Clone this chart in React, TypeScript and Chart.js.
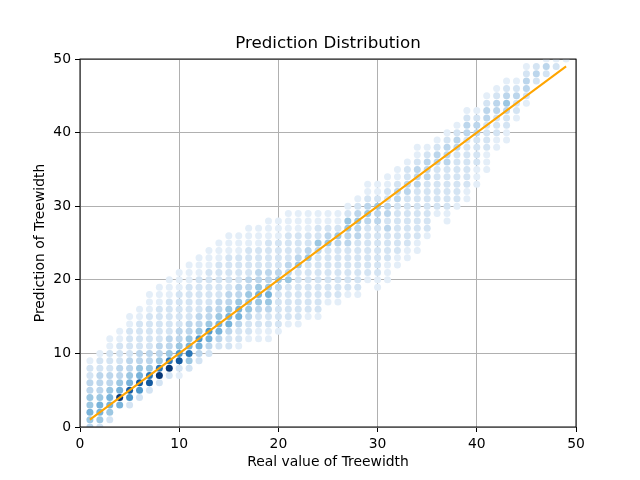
import { useEffect, useRef } from "react";
import { Chart, registerables } from "chart.js";

Chart.register(...registerables);

// one column of dots per real treewidth value
const columnX = [
  1, 2, 3, 4, 5, 6, 7, 8, 9, 10, 11, 12, 13, 14, 15, 16, 17, 18, 19, 20, 21, 22, 23, 24, 25,
  26, 27, 28, 29, 30, 31, 32, 33, 34, 35, 36, 37, 38, 39, 40, 41, 42, 43, 44, 45, 46, 47, 48, 49,
];

// lowest predicted value present in each column
const columnLow = [
  0, 0, 1, 3, 3, 4, 5, 6, 7, 7, 8, 9, 10, 11, 11, 11, 12, 12, 12, 13, 14, 14, 15, 15, 17,
  17, 18, 18, 20, 19, 20, 22, 23, 24, 26, 29, 28, 30, 31, 33, 35, 38, 39, 42, 44, 47, 48, 49, 50,
];

// density shade (1 = rare .. 9 = frequent) for each predicted value, from columnLow upwards
const columnShades = [
  "3454433221",
  "24554333221",
  "245543322211",
  "59543322211",
  "2685433222211",
  "2685433222211",
  "28743322222111",
  "29743322222111",
  "29743322222111",
  "128643322222111",
  "247543322222111",
  "235643322222111",
  "235643322222111",
  "235543322222111",
  "2235543322222111",
  "1223554332222111",
  "1223444332222111",
  "1122345433222111",
  "11223454332222111",
  "1222223432222111",
  "1222224332222111",
  "1222222243222111",
  "122222224322111",
  "122222222342211",
  "1222222243211",
  "1222222234211",
  "1222222334421",
  "12222222334321",
  "12222222343211",
  "112222222334211",
  "111222232332211",
  "11222222233211",
  "11222222233221",
  "112222222333211",
  "1222222233321",
  "12222223321",
  "1122222233321",
  "122222223321",
  "1122222223321",
  "11122223321",
  "11122223321",
  "112223321",
  "112234321",
  "122321",
  "123321",
  "232",
  "231",
  "21",
  "1",
];

const shadeColors = [
  "#ffffff",
  "#e4eef8",
  "#d4e4f3",
  "#bcd6ec",
  "#9cc7e2",
  "#78b3da",
  "#4c97cb",
  "#2a77b8",
  "#135aa0",
  "#083877",
];

const idealX = [1, 49];
const idealY = [1, 49];

const tickValues = [0, 10, 20, 30, 40, 50];

const FONT = "DejaVu Sans";

const framePlugin = {
  id: "frame",
  afterDraw(chart: any) {
    const { ctx, chartArea: a } = chart;
    ctx.save();
    ctx.strokeStyle = "#000";
    ctx.lineWidth = 1;
    ctx.strokeRect(a.left, a.top, a.right - a.left, a.bottom - a.top);
    ctx.restore();
  },
};

export default function App() {
  const chartRef = useRef<HTMLCanvasElement>(null);
  const chartInstance = useRef<Chart | null>(null);

  useEffect(() => {
    document.body.style.margin = "0";
    if (!chartRef.current) return;
    const ctx = chartRef.current.getContext("2d");
    if (!ctx) return;

    if (chartInstance.current) {
      chartInstance.current.destroy();
    }

    const points: { x: number; y: number }[] = [];
    const colors: string[] = [];
    columnX.forEach((x, i) => {
      const shades = columnShades[i];
      for (let j = 0; j < shades.length; j++) {
        points.push({ x, y: columnLow[i] + j });
        colors.push(shadeColors[Number(shades[j])]);
      }
    });

    const tickFont = { family: FONT, size: 13.9 };

    chartInstance.current = new Chart(ctx, {
      type: "scatter",
      data: {
        datasets: [
          {
            label: "ideal",
            data: idealX.map((x, i) => ({ x, y: idealY[i] })),
            showLine: true,
            borderColor: "#ffa500",
            borderWidth: 2,
            pointRadius: 0,
            fill: false,
          },
          {
            label: "predictions",
            data: points,
            backgroundColor: colors,
            pointRadius: 3.5,
            pointBorderWidth: 0,
            borderWidth: 0,
          },
        ],
      },
      options: {
        responsive: true,
        maintainAspectRatio: false,
        animation: false,
        layout: { padding: { left: 0, right: 64, top: 0, bottom: 0 } },
        plugins: {
          legend: { display: false },
          tooltip: { enabled: false },
          title: {
            display: true,
            text: "Prediction Distribution",
            fullSize: false,
            color: "#000",
            font: { family: FONT, size: 16.7, weight: "normal", lineHeight: 1.2 },
            padding: { top: 34, bottom: 5 },
          },
        },
        scales: {
          x: {
            type: "linear",
            min: 0,
            max: 50,
            afterFit: (s: any) => {
              s.height = 53;
            },
            afterBuildTicks: (s: any) => {
              s.ticks = tickValues.map((v) => ({ value: v }));
            },
            ticks: { color: "#000", font: tickFont, padding: 4, maxRotation: 0 },
            grid: { color: "#b0b0b0", lineWidth: 1, tickColor: "#000", tickLength: 5, tickWidth: 1 },
            border: { display: false },
            title: {
              display: true,
              text: "Real value of Treewidth",
              color: "#000",
              font: { ...tickFont, lineHeight: 1.2 },
              padding: { top: 0, bottom: 9.6 },
            },
          },
          y: {
            type: "linear",
            min: 0,
            max: 50,
            afterFit: (s: any) => {
              s.width = 80;
            },
            afterBuildTicks: (s: any) => {
              s.ticks = tickValues.map((v) => ({ value: v }));
            },
            ticks: { color: "#000", font: tickFont, padding: 4 },
            grid: { color: "#b0b0b0", lineWidth: 1, tickColor: "#000", tickLength: 5, tickWidth: 1 },
            border: { display: false },
            title: {
              display: true,
              text: "Prediction of Treewidth",
              color: "#000",
              font: { ...tickFont, lineHeight: 1.2 },
              padding: { top: 31.6, bottom: 0 },
            },
          },
        },
      },
      plugins: [framePlugin],
    });

    return () => {
      if (chartInstance.current) {
        chartInstance.current.destroy();
        chartInstance.current = null;
      }
    };
  }, []);

  return (
    <div style={{ position: "relative", width: 640, height: 480 }}>
      <canvas ref={chartRef}></canvas>
    </div>
  );
}
